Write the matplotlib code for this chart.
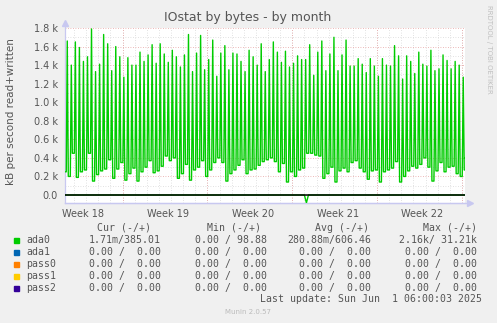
import numpy as np
import matplotlib
matplotlib.use('Agg')
import matplotlib.pyplot as plt

# Munin iostat (bytes), month view: 33 days ending Sun Jun 1 06:00 2025
# x axis in hours since graph start
SPAN_H = 792
WEEK_LINES_H = [114, 282, 450, 618, 786]
WEEK_LABELS = ['Week 18', 'Week 19', 'Week 20', 'Week 21', 'Week 22']
WEEK_LABEL_H = [36, 204, 372, 540, 708]

# ada0 written (kB/s, thousands) - spike tops every 8h
peaks = [1.66, 1.40, 1.65, 1.59, 1.44, 1.49, 1.79, 1.33, 1.41, 1.73,
         1.63, 1.34, 1.60, 1.49, 1.27, 1.48, 1.40, 1.40, 1.54, 1.44,
         1.51, 1.62, 1.42, 1.63, 1.52, 1.43, 1.56, 1.49, 1.38, 1.51,
         1.73, 1.33, 1.53, 1.72, 1.35, 1.46, 1.67, 1.28, 1.53, 1.61,
         1.35, 1.53, 1.52, 1.44, 1.33, 1.56, 1.49, 1.40, 1.63, 1.33,
         1.46, 1.65, 1.54, 1.43, 1.55, 1.38, 1.42, 1.50, 1.46, 1.46,
         1.62, 1.29, 1.54, 1.66, 1.34, 1.52, 1.70, 1.34, 1.51, 1.67,
         1.39, 1.39, 1.47, 1.41, 1.32, 1.47, 1.39, 1.28, 1.47, 1.40,
         1.39, 1.61, 1.50, 1.25, 1.50, 1.44, 1.31, 1.54, 1.41, 1.39,
         1.56, 1.34, 1.36, 1.51, 1.45, 1.36, 1.44, 1.40, 1.27, 1.62]
# baseline between spikes
troughs = [0.20, 0.45, 0.19, 0.25, 0.27, 0.45, 0.15, 0.22, 0.26, 0.28,
           0.38, 0.18, 0.28, 0.35, 0.16, 0.23, 0.29, 0.15, 0.25, 0.30,
           0.37, 0.24, 0.26, 0.31, 0.42, 0.37, 0.40, 0.18, 0.23, 0.33,
           0.16, 0.27, 0.30, 0.37, 0.20, 0.27, 0.35, 0.40, 0.35, 0.15,
           0.23, 0.27, 0.32, 0.38, 0.23, 0.27, 0.28, 0.32, 0.36, 0.38,
           0.40, 0.36, 0.25, 0.34, 0.14, 0.25, 0.20, 0.27, 0.29, 0.45,
           0.45, 0.43, 0.42, 0.18, 0.23, 0.30, 0.14, 0.26, 0.29, 0.25,
           0.35, 0.37, 0.29, 0.25, 0.17, 0.26, 0.27, 0.14, 0.25, 0.27,
           0.29, 0.36, 0.14, 0.20, 0.26, 0.31, 0.29, 0.33, 0.40, 0.30,
           0.15, 0.26, 0.35, 0.25, 0.30, 0.31, 0.23, 0.20, 0.27, 0.40]
start_val = 0.25

# ada0 read, drawn negative
read_h = [0, 474, 478, 482, SPAN_H]
read_v = [0.0, 0.0, -0.085, 0.0, 0.0]

legend_names = ['ada0', 'ada1', 'pass0', 'pass1', 'pass2']
legend_colors = ['#00cc00', '#0066b3', '#ff8000', '#ffcc00', '#330099']
cur = ['1.71m/385.01', '0.00 /  0.00', '0.00 /  0.00', '0.00 /  0.00', '0.00 /  0.00']
mins = ['0.00 / 98.88', '0.00 /  0.00', '0.00 /  0.00', '0.00 /  0.00', '0.00 /  0.00']
avgs = ['280.88m/606.46', '0.00 /  0.00', '0.00 /  0.00', '0.00 /  0.00', '0.00 /  0.00']
maxs = ['2.16k/ 31.21k', '0.00 /  0.00', '0.00 /  0.00', '0.00 /  0.00', '0.00 /  0.00']

W, H = 497, 323
def fx(x): return x / W
def fy(y): return 1 - y / H

fig = plt.figure(figsize=(W / 100, H / 100), dpi=100, facecolor='#f0f0f0')
ax = fig.add_axes([fx(65), fy(203), 400 / W, 175 / H])
ax.set_facecolor('white')

# one sample per 2h (one pixel): baseline, spike, baseline
n = len(peaks)
t_peak = 4.5 + 8 * np.arange(n)
before = np.concatenate([[start_val], troughs[:-1]])
t = np.column_stack([t_peak - 2, t_peak, t_peak + 2]).ravel()
v = np.column_stack([before, peaks, troughs]).ravel()
t = np.concatenate([[0], t, [SPAN_H]])
v = np.concatenate([[start_val], v, [troughs[-1]]])

ax.set_xlim(0, SPAN_H)
ax.set_ylim(-8 / 92.78, 1.8)

# grid
grid_kw = dict(lw=0.6, dashes=(1, 2), zorder=1)
for d in range(18, SPAN_H, 24):
    ax.axvline(d, color='#d8d8d8', **grid_kw)
for yy in np.arange(0.1, 1.8, 0.2):
    ax.axhline(yy, color='#d8d8d8', **grid_kw)
for yy in np.arange(0.0, 1.81, 0.2):
    ax.axhline(yy, color='#e6a0a0', **grid_kw)
for w in WEEK_LINES_H:
    ax.axvline(w, color='#e6a0a0', **grid_kw)

ax.plot(t, v, color='#00cc00', lw=1.0, zorder=3)
ax.plot(read_h, read_v, color='#00cc00', lw=1.0, zorder=3)
ax.axhline(0, color='black', lw=1.1, zorder=4)

for s in ['top', 'right', 'left']:
    ax.spines[s].set_visible(False)
ax.spines['bottom'].set_color('#c8c8f0')
ax.spines['bottom'].set_linewidth(0.9)
ax.plot([0, 0], [0, 1.03], color='#c8c8f0', lw=0.9, transform=ax.transAxes, clip_on=False)
ax.plot([0], [1.03], marker='^', color='#c8c8f0', ms=5, transform=ax.transAxes, clip_on=False)
ax.plot([0, 1.01], [0, 0], color='#c8c8f0', lw=0.9, transform=ax.transAxes, clip_on=False)
ax.plot([1.0125], [0], marker='>', color='#c8c8f0', ms=5, transform=ax.transAxes, clip_on=False)

yt = np.arange(0, 1.81, 0.2)
ax.set_yticks(yt)
ax.set_yticklabels(['0.0'] + ['%.1f k' % y for y in yt[1:]])
ax.set_xticks(WEEK_LABEL_H)
ax.set_xticklabels(WEEK_LABELS)
ax.tick_params(length=0, labelsize=7, labelcolor='#555555')
ax.tick_params(axis='y', pad=5)
ax.tick_params(axis='x', pad=4)

fig.text(fx(248), fy(17), 'IOstat by bytes - by month', ha='center', va='center',
         fontsize=9, color='#555555')
fig.text(fx(11), fy(112), 'kB per second read+written', rotation=90, ha='center', va='center',
         fontsize=7.5, color='#555555')
fig.text(fx(489), fy(5), 'RRDTOOL / TOBI OETIKER', rotation=270, ha='center', va='top',
         fontsize=5, color='#c0c0c0')

mono = dict(family='DejaVu Sans Mono', fontsize=7.1, color='#555555', va='center')
heads = ['Cur (-/+)', 'Min (-/+)', 'Avg (-/+)', 'Max (-/+)']
col_r = [161, 267, 371, 477]
head_r = [151, 261, 369, 477]
for h, xr in zip(heads, head_r):
    fig.text(fx(xr), fy(228), h, ha='right', **mono)
rows_y = [240, 252, 264, 276, 288]
for i, name in enumerate(legend_names):
    y = rows_y[i]
    fig.patches.append(plt.Rectangle((fx(14), fy(y + 2.5)), 5 / W, 5 / H,
                                     transform=fig.transFigure, color=legend_colors[i]))
    fig.text(fx(26), fy(y), name, ha='left', **mono)
    for col, xr in zip([cur, mins, avgs, maxs], col_r):
        fig.text(fx(xr), fy(y), col[i], ha='right', **mono)
fig.text(fx(482), fy(299), 'Last update: Sun Jun  1 06:00:03 2025', ha='right', **mono)
fig.text(fx(248), fy(312), 'Munin 2.0.57', ha='center', va='center', fontsize=5, color='#bbbbbb')

fig.savefig('out.png', dpi=100, facecolor=fig.get_facecolor())
